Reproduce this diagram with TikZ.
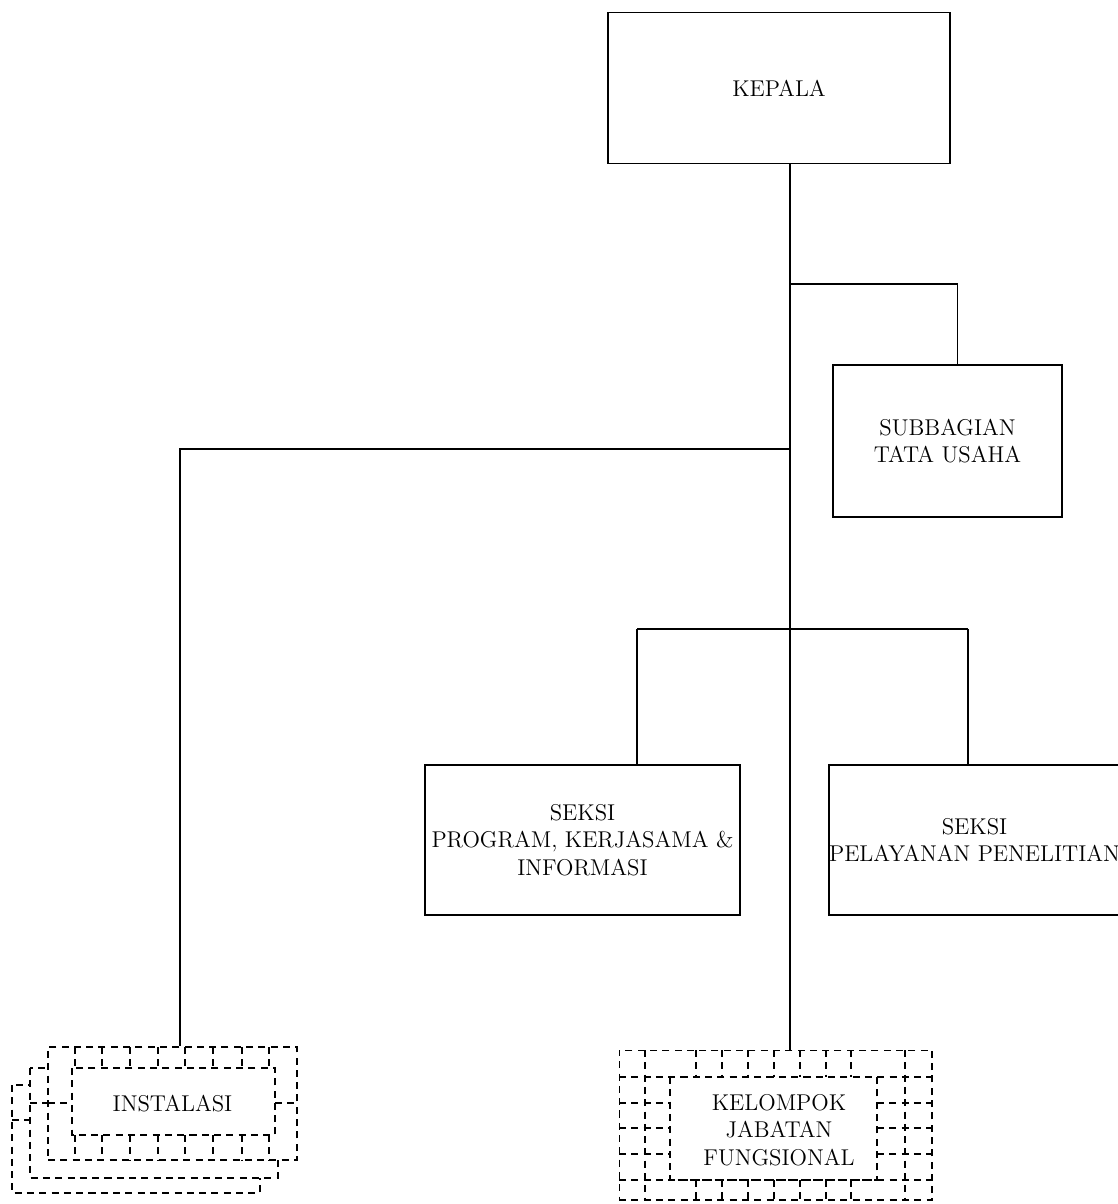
\documentclass[tikz,border=0pt]{standalone}
\usepackage{tikz}
\usetikzlibrary{positioning}

\begin{document}
\begin{tikzpicture}[x=0.02cm, y=-0.02cm,
  box/.style={draw, line width=0.8pt, align=center, inner sep=0pt, font=\fontsize{13}{15.5}\selectfont},
  dsh/.style={line width=0.6pt, dash pattern=on 4pt off 3pt},
  link/.style={line width=0.8pt}
]
\useasboundingbox[fill=white] (0,0) rectangle (1118,1204);

% structural units
\node[box, minimum width=6.84cm, minimum height=3.02cm] (kepala) at (779,88) {KEPALA};
\node[box, minimum width=4.58cm, minimum height=3.04cm] (subbag) at (947.5,441) {SUBBAGIAN\\TATA USAHA};
\node[box, minimum width=6.3cm, minimum height=3cm] (program) at (582.5,840) {SEKSI\\PROGRAM, KERJASAMA \&\\INFORMASI};
\node[box, minimum width=5.74cm, minimum height=3cm] (pelayanan) at (974.5,840) {SEKSI\\PELAYANAN PENELITIAN};

% instalasi (stacked)
\draw[dsh, fill=white] (12,1085) rectangle (260,1193);
\draw[dsh] (12,1120) -- (30,1120);
\draw[dsh, fill=white] (30,1068) rectangle (278,1178);
\draw[dsh] (30,1103) -- (48,1103);
\node[box, dsh, fill=white, minimum width=4.98cm, minimum height=2.26cm] (instalasi) at (172.5,1103.5) {INSTALASI};
\draw[dsh] (72,1068) rectangle (275,1135);
\foreach \x in {75,102,130,158,185,213,242,269} {
  \draw[dsh] (\x,1047) -- (\x,1068);
  \draw[dsh] (\x,1135) -- (\x,1160);
}
\draw[dsh] (48,1103) -- (72,1103);
\draw[dsh] (275,1103) -- (297,1103);

% kelompok jabatan fungsional
\node[box, dsh, minimum width=6.26cm, minimum height=3cm] (kelompok) at (775.5,1125) {};
\node[font=\fontsize{13}{15.5}\selectfont, align=center] (kjf) at (779,1130) {KELOMPOK\\JABATAN\\FUNGSIONAL};
\draw[dsh] (670,1077) rectangle (877,1180);
\draw[dsh] (619,1077) -- (932,1077);
\draw[dsh] (619,1180) -- (932,1180);
\draw[dsh] (645,1050) -- (645,1200);
\draw[dsh] (905,1050) -- (905,1200);
\foreach \x in {696,722,748,774,800,826,851} {
  \draw[dsh] (\x,1050) -- (\x,1077);
  \draw[dsh] (\x,1180) -- (\x,1200);
}
\foreach \y in {1103,1128,1154} {
  \draw[dsh] (619,\y) -- (670,\y);
  \draw[dsh] (877,\y) -- (932,\y);
}

% connectors
\coordinate (trunk) at (790,0);
\coordinate (ja) at (790,284);
\coordinate (jb) at (790,449);
\coordinate (bl) at (637,629);
\coordinate (br) at (968,629);
\coordinate (il) at (180,449);

\draw[link] (kepala.south -| trunk) -- (trunk |- kelompok.north);
\draw[link] (ja) -| ([xshift=0.2cm]subbag.north);
\draw[link] (jb) -- (il) -- (il |- instalasi.north);
\draw[link] (bl) -- (br);
\draw[link] (bl) -- (bl |- program.north);
\draw[link] (br) -- (br |- pelayanan.north);
\end{tikzpicture}
\end{document}
